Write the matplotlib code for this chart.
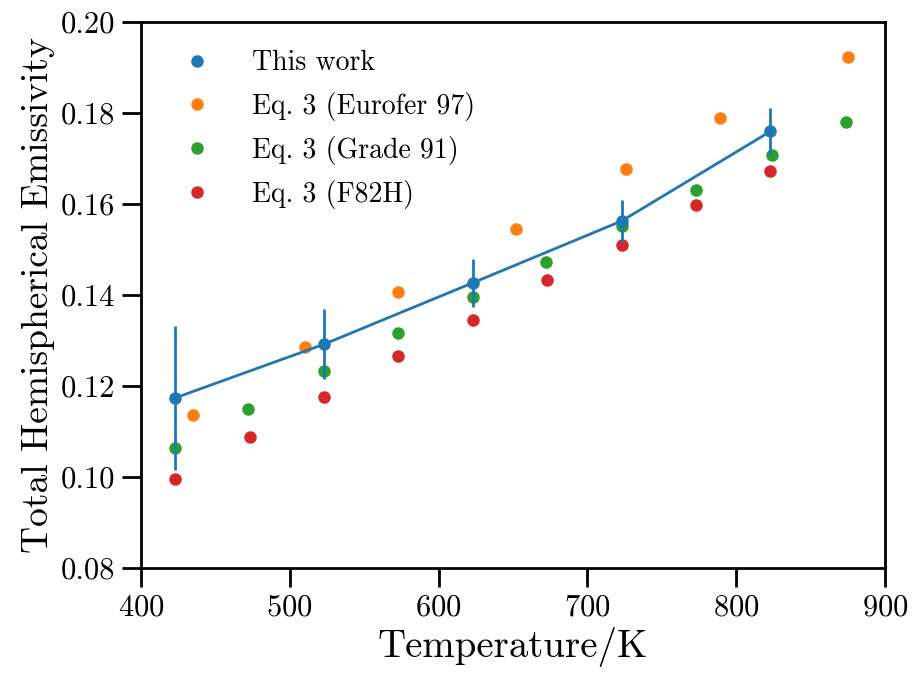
import matplotlib
matplotlib.use('Agg')
import matplotlib.pyplot as plt
from matplotlib.lines import Line2D

# This work (measured)
T_work = [423, 523, 623, 723, 823]
eps_work = [0.1174, 0.1292, 0.1427, 0.1563, 0.1760]
err_work = [0.0158, 0.0077, 0.0053, 0.0047, 0.0052]

# Eq. 3 (Eurofer 97)
T_eurofer = [435, 510, 573, 652, 726, 789, 875]
eps_eurofer = [0.1136, 0.1285, 0.1407, 0.1546, 0.1678, 0.1789, 0.1923]

# Eq. 3 (Grade 91)
T_grade91 = [423, 472, 523, 573, 623, 672, 723, 773, 824, 874]
eps_grade91 = [0.1064, 0.1150, 0.1233, 0.1316, 0.1396, 0.1473, 0.1552, 0.1631, 0.1707, 0.1780]

# Eq. 3 (F82H)
T_f82h = [423, 473, 523, 573, 623, 673, 723, 773, 823]
eps_f82h = [0.0996, 0.1088, 0.1176, 0.1267, 0.1346, 0.1434, 0.1510, 0.1599, 0.1673]

labels = ['This work', 'Eq. 3 (Eurofer 97)', 'Eq. 3 (Grade 91)', 'Eq. 3 (F82H)']
colors = ['tab:blue', 'tab:orange', 'tab:green', 'tab:red']

plt.rcParams['font.family'] = 'cmr10'
plt.rcParams['mathtext.fontset'] = 'cm'
plt.rcParams['axes.formatter.use_mathtext'] = True

fig = plt.figure(figsize=(9.13, 6.73), dpi=100)
ax = fig.add_axes([0.1544, 0.156, 0.815, 0.811])

ax.errorbar(T_work, eps_work, yerr=err_work, color=colors[0], marker='o',
            markersize=8, linewidth=2, elinewidth=2, zorder=3)
ax.plot(T_eurofer, eps_eurofer, 'o', color=colors[1], markersize=8)
ax.plot(T_grade91, eps_grade91, 'o', color=colors[2], markersize=8)
ax.plot(T_f82h, eps_f82h, 'o', color=colors[3], markersize=8)

ax.set_xlim(400, 900)
ax.set_ylim(0.08, 0.20)
ax.set_xticks([400, 500, 600, 700, 800, 900])
ax.set_yticks([0.08, 0.10, 0.12, 0.14, 0.16, 0.18, 0.20])
ax.set_yticklabels(['0.08', '0.10', '0.12', '0.14', '0.16', '0.18', '0.20'])
ax.tick_params(labelsize=22, length=13.5, width=2, direction='out', pad=5)
for s in ax.spines.values():
    s.set_linewidth(2)

ax.set_xlabel('Temperature/K', fontsize=28)
ax.set_ylabel('Total Hemispherical Emissivity', fontsize=27)

# legend shows only the markers
handles = [Line2D([], [], linestyle='', marker='o', markersize=8, color=c) for c in colors]
ax.legend(handles, labels, frameon=False, fontsize=20, loc='upper left',
          handletextpad=1.0, borderaxespad=0.6, labelspacing=0.55)

fig.savefig('out.png', dpi=100)
